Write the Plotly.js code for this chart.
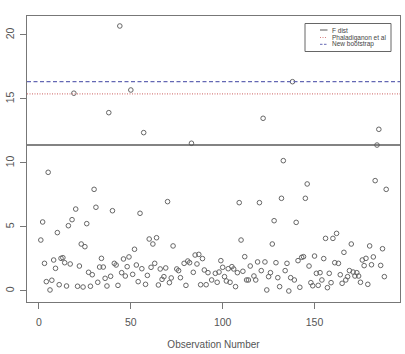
<!DOCTYPE html>
<html>
<head>
<meta charset="utf-8">
<script src="https://cdn.plot.ly/plotly-3.0.1.min.js"></script>
<style>html,body{margin:0;padding:0;background:#fff;}#chart{width:405px;height:354px;}</style>
</head>
<body>
<div id="chart"></div>
<script>
// Observation numbers and statistic values
const obsNumber = [1,2,3,4,5,6,7,8,9,10,11,12,13,14,15,16,17,18,19,20,21,22,23,24,25,26,27,28,29,30,
31,32,33,34,35,36,37,38,39,40,41,42,43,44,45,46,47,48,49,50,51,52,53,54,55,56,57,58,59,60,
61,62,63,64,65,66,67,68,69,70,71,72,73,75,76,77,79,80,81,82,83,84,85,86,87,88,89,90,91,92,
94,96,97,98,99,100,101,102,103,104,105,106,107,108,109,110,111,112,113,114,115,117,118,119,120,121,122,123,124,125,
126,127,128,129,130,131,132,133,134,135,136,137,138,139,140,141,142,143,144,145,146,147,148,149,150,151,152,153,154,155,
156,157,158,159,160,161,162,163,164,165,166,167,168,169,170,171,172,173,174,175,176,177,178,179,180,181,182,183,184,185,
186,187,188,189];
const statValue = [3.98,5.39,2.16,0.73,9.27,0.08,0.84,2.42,1.77,4.56,0.49,2.55,2.6,2.21,0.39,5.1,2.11,5.57,15.45,6.4,
0.37,1.95,3.67,0.31,3.46,5.26,1.46,0.37,1.27,7.94,6.54,0.68,1.87,2.55,1.87,0.99,0.39,13.93,1.15,6.27,
2.16,2.03,0.44,20.7,1.43,2.5,1.17,1.9,2.66,15.7,1.3,3.26,2.03,0.73,6.07,1.74,12.37,0.52,1.22,4.06,
1.85,3.67,2.16,4.16,0.47,1.72,0.91,1.12,1.8,6.98,0.65,1.02,3.52,1.72,1.59,1.04,2.16,0.44,2.34,2.21,
11.54,1.46,2.81,2.11,2.86,0.49,2.53,1.64,0.49,1.43,0.86,1.38,0.68,1.48,2.37,1.85,1.12,0.78,1.74,0.68,
1.9,1.72,0.34,1.43,6.9,3.98,1.54,2.68,0.86,0.86,1.95,1.17,0.86,2.27,6.9,1.59,13.49,2.27,0.08,1.12,
1.43,3.67,5.49,2.21,1.04,0.34,7.24,10.18,1.59,2.16,0.0,1.04,16.35,0.86,5.36,2.37,0.29,2.63,2.68,7.24,
8.36,1.95,0.65,0.41,2.73,1.38,0.44,1.43,0.86,2.53,4.11,0.26,1.38,0.65,4.11,2.21,4.5,2.16,1.27,0.6,
3.02,0.86,1.12,1.59,3.67,1.48,1.17,1.43,1.17,0.68,2.42,1.98,2.55,0.52,3.52,2.05,2.66,8.62,11.4,12.63,
2.0,3.3,1.12,7.94];

// Cut-off values
const cutoffNames = ["F dist", "Phaladiganon et al", "New bootstrap"];
const cutoffValues = [11.4, 15.39, 16.35];
const cutoffColors = ["#5a5a5a", "#d68080", "#6468b4"];
const cutoffDash = ["solid", "1px,1.5px", "4px,2.5px"];
const cutoffWidth = [1.5, 1.2, 1.3];

const xTicks = [0, 50, 100, 150];
const yTicks = [0, 5, 10, 15, 20];

const W = 405, H = 354;
const M = {l: 27, r: 5, t: 16, b: 52};
const pw = W - M.l - M.r, ph = H - M.t - M.b;
const px = x => (x - M.l) / pw;
const py = y => 1 - (y - M.t) / ph;

const traces = [{
  type: 'scatter', mode: 'markers', x: obsNumber, y: statValue,
  marker: {symbol: 'circle-open', size: 4.6, color: '#666', line: {width: 1, color: '#666'}},
  showlegend: false, hoverinfo: 'none'
}];

const shapes = [];
cutoffValues.forEach((v, i) => {
  shapes.push({type: 'line', xref: 'paper', yref: 'y', x0: 0, x1: 1, y0: v, y1: v,
    line: {color: cutoffColors[i], width: cutoffWidth[i], dash: cutoffDash[i]}});
});
// legend box
shapes.push({type: 'rect', xref: 'paper', yref: 'paper', x0: px(305), x1: px(391), y0: py(23.5), y1: py(51.5),
  line: {color: '#666', width: 1}, fillcolor: 'rgba(0,0,0,0)'});
const rowY = [30, 37.5, 44.3];
const legendDash = ["solid", "1px,1.5px", "2.5px,1.5px"];
const annotations = [];
cutoffNames.forEach((n, i) => {
  shapes.push({type: 'line', xref: 'paper', yref: 'paper', x0: px(320), x1: px(327.5), y0: py(rowY[i]), y1: py(rowY[i]),
    line: {color: cutoffColors[i], width: 1, dash: legendDash[i]}});
  annotations.push({xref: 'paper', yref: 'paper', x: px(329.5), y: py(rowY[i]), xanchor: 'left', yanchor: 'middle',
    text: n, showarrow: false, font: {family: 'Liberation Sans, Arial, sans-serif', size: 6.5, color: '#444'}});
});

const axisCommon = {
  showgrid: false, zeroline: false, showline: true, mirror: true, linecolor: '#777', linewidth: 1.2,
  ticks: 'outside', ticklen: 6, tickcolor: '#777', tickwidth: 1,
  tickfont: {family: 'Liberation Sans, Arial, sans-serif', size: 10.5, color: '#555'}
};

const layout = {
  width: W, height: H, margin: M, paper_bgcolor: '#fff', plot_bgcolor: '#fff',
  showlegend: false,
  xaxis: Object.assign({}, axisCommon, {range: [-6.52, 196.52], tickvals: xTicks, ticklabelstandoff: 4,
    title: {text: 'Observation Number', standoff: 14, font: {family: 'Liberation Sans, Arial, sans-serif', size: 10, color: '#555'}}}),
  yaxis: Object.assign({}, axisCommon, {range: [-0.86, 21.48], tickvals: yTicks, tickangle: -90, ticklabelstandoff: 2}),
  shapes: shapes, annotations: annotations
};

Plotly.newPlot('chart', traces, layout, {staticPlot: true, displayModeBar: false});
</script>
</body>
</html>
